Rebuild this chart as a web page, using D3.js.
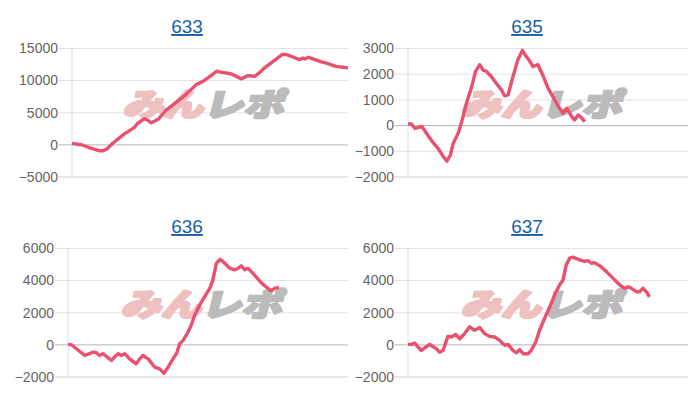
<!DOCTYPE html>
<html>
<head>
<meta charset="utf-8">
<script src="https://cdn.jsdelivr.net/npm/d3@7"></script>
<style>
  body { margin: 0; background: #fff; }
  .tick text { font-family: "Liberation Sans", Arial, sans-serif; font-size: 14px; fill: #666; }
  .title { font-family: "Liberation Sans", Arial, sans-serif; font-size: 19px; fill: #1a5fa6; text-decoration: underline; }
</style>
</head>
<body>
<div id="chart"></div>
<script>
'use strict';

// machine numbers (panel titles)
var machines = ['633', '635', '636', '637'];

// games played (x) and coin difference (y) per machine
var games633 = [0, 300, 500, 800, 900, 1000, 1200, 1500, 1800, 1900, 2100, 2200, 2300, 2500, 2700, 3000, 3300, 3600, 3800, 4000, 4200, 4300, 4600, 4800, 4900, 5100, 5300, 5400, 5600, 5900, 6100, 6200, 6400, 6600, 6700, 6750, 6850, 7050, 7250, 7400, 7650, 7850, 8000];
var diff633 = [150, -100, -500, -1000, -1000, -750, 250, 1550, 2600, 3250, 4000, 3750, 3350, 3900, 5200, 6450, 7750, 9300, 9800, 10600, 11400, 11250, 11000, 10500, 10200, 10700, 10600, 11000, 12000, 13200, 14000, 14000, 13600, 13200, 13450, 13300, 13550, 13200, 12800, 12600, 12150, 12000, 11900];

var games635 = [0, 100, 200, 300, 400, 500, 600, 700, 860, 1000, 1110, 1210, 1290, 1430, 1520, 1670, 1810, 1930, 2050, 2140, 2240, 2380, 2520, 2670, 2760, 2860, 3000, 3140, 3270, 3380, 3480, 3570, 3710, 3860, 4000, 4140, 4290, 4430, 4540, 4670, 4760, 4860, 4950, 5050];
var diff635 = [40, 40, -130, -90, -65, -260, -460, -650, -910, -1210, -1400, -1170, -720, -330, 60, 850, 1440, 2090, 2350, 2150, 2090, 1890, 1630, 1370, 1140, 1180, 1890, 2540, 2910, 2670, 2480, 2280, 2350, 1920, 1440, 1110, 740, 460, 650, 350, 200, 390, 300, 130];

var games636 = [0, 100, 240, 480, 620, 710, 810, 900, 1000, 1090, 1240, 1330, 1430, 1520, 1620, 1760, 1950, 2050, 2140, 2290, 2480, 2620, 2740, 2860, 3000, 3110, 3190, 3290, 3430, 3520, 3620, 3760, 3900, 4050, 4140, 4240, 4350, 4480, 4620, 4760, 4860, 4950, 5050, 5140, 5240, 5380, 5520, 5670, 5810, 5900, 6030];
var diff636 = [0, -20, -270, -690, -580, -480, -520, -690, -580, -730, -1000, -790, -580, -690, -580, -900, -1210, -900, -690, -900, -1420, -1520, -1800, -1420, -900, -540, 40, 250, 770, 1190, 1820, 2440, 2960, 3490, 4010, 5050, 5300, 5050, 4740, 4640, 4740, 4890, 4640, 4740, 4530, 4180, 3840, 3550, 3340, 3490, 3550];

var games637 = [0, 100, 190, 290, 380, 480, 620, 710, 810, 900, 1000, 1140, 1240, 1360, 1480, 1620, 1760, 1900, 2050, 2190, 2330, 2480, 2620, 2760, 2860, 3000, 3100, 3190, 3290, 3430, 3520, 3650, 3760, 3900, 4050, 4190, 4330, 4430, 4520, 4620, 4710, 4900, 5050, 5140, 5240, 5330, 5480, 5670, 5860, 6050, 6190, 6290, 6380, 6520, 6620, 6710, 6810, 6900];
var diff637 = [0, 0, 80, -170, -380, -210, 0, -130, -270, -480, -380, 500, 460, 610, 350, 670, 1090, 880, 1050, 670, 500, 460, 250, -60, 0, -380, -520, -330, -580, -580, -380, 150, 880, 1610, 2340, 3070, 3700, 4010, 4950, 5370, 5430, 5260, 5160, 5220, 5050, 5090, 4890, 4530, 4110, 3700, 3490, 3590, 3490, 3280, 3280, 3490, 3280, 2960];

// y-axis tick labels per panel
var ticks633 = [-5000, 0, 5000, 10000, 15000];
var ticks635 = [-2000, -1000, 0, 1000, 2000, 3000];
var ticks636 = [-2000, 0, 2000, 4000, 6000];
var ticks637 = [-2000, 0, 2000, 4000, 6000];

var gamesMax = 8000;

var panels = [
    { name: machines[0], games: games633, diff: diff633, ticks: ticks633, left: 72, right: 348, top: 48, bottom: 176.5, titleX: 187, titleY: 33 },
    { name: machines[1], games: games635, diff: diff635, ticks: ticks635, left: 408, right: 688, top: 48, bottom: 176.5, titleX: 527, titleY: 33 },
    { name: machines[2], games: games636, diff: diff636, ticks: ticks636, left: 68, right: 348, top: 248, bottom: 376.5, titleX: 187, titleY: 233 },
    { name: machines[3], games: games637, diff: diff637, ticks: ticks637, left: 408, right: 688, top: 248, bottom: 376.5, titleX: 527, titleY: 233 }
];

var svg = d3.select('#chart').append('svg')
    .attr('width', 700)
    .attr('height', 400);

panels.forEach(function(p) {
    var x = d3.scaleLinear().domain([0, gamesMax]).range([p.left, p.right]);
    var y = d3.scaleLinear().domain(d3.extent(p.ticks)).range([p.bottom, p.top]);
    var g = svg.append('g');

    g.append('text')
        .attr('class', 'title')
        .attr('x', p.titleX)
        .attr('y', p.titleY)
        .attr('text-anchor', 'middle')
        .text(p.name);

    var tickLen = 13;
    var yAxis = d3.axisLeft(y)
        .tickValues(p.ticks)
        .tickFormat(d3.format('d'))
        .tickSize(-(p.right - p.left + tickLen))
        .tickPadding(1);

    var ax = g.append('g')
        .attr('transform', 'translate(' + (p.left - tickLen) + ',0)')
        .call(yAxis);
    ax.select('.domain').remove();
    ax.selectAll('.tick line').attr('stroke', function(d) {
        if (d === 0) return '#b5b5b5';
        if (d === p.ticks[0]) return '#cfcfcf';
        return '#e2e2e2';
    });
    ax.selectAll('.tick text').attr('dy', '0.34em');

    g.append('line')
        .attr('x1', p.left).attr('x2', p.left)
        .attr('y1', p.top).attr('y2', p.bottom)
        .attr('stroke', '#dddddd');

    // watermark
    var cx = (p.left + p.right) / 2 - 4;
    var cy = p.top + 57;
    var wm = g.append('text')
        .attr('transform', 'translate(' + cx + ',' + cy + ') skewX(-14) scale(1.22,0.95)')
        .attr('text-anchor', 'middle')
        .attr('dy', '0.36em')
        .attr('stroke-width', 2.6)
        .attr('stroke-linejoin', 'round')
        .style('font-family', '"Noto Sans CJK JP", sans-serif')
        .style('font-weight', 900)
        .style('font-size', '33px');
    wm.append('tspan').attr('fill', '#eec0c0').attr('stroke', '#eec0c0').text('みん');
    wm.append('tspan').attr('fill', '#bbbbbb').attr('stroke', '#bbbbbb').text('レポ');

    var line = d3.line()
        .x(function(d) { return x(d[0]); })
        .y(function(d) { return y(d[1]); });

    g.append('path')
        .datum(d3.zip(p.games, p.diff))
        .attr('fill', 'none')
        .attr('stroke', '#e9516f')
        .attr('stroke-width', 3.4)
        .attr('stroke-linejoin', 'round')
        .attr('d', line);
});
</script>
</body>
</html>
